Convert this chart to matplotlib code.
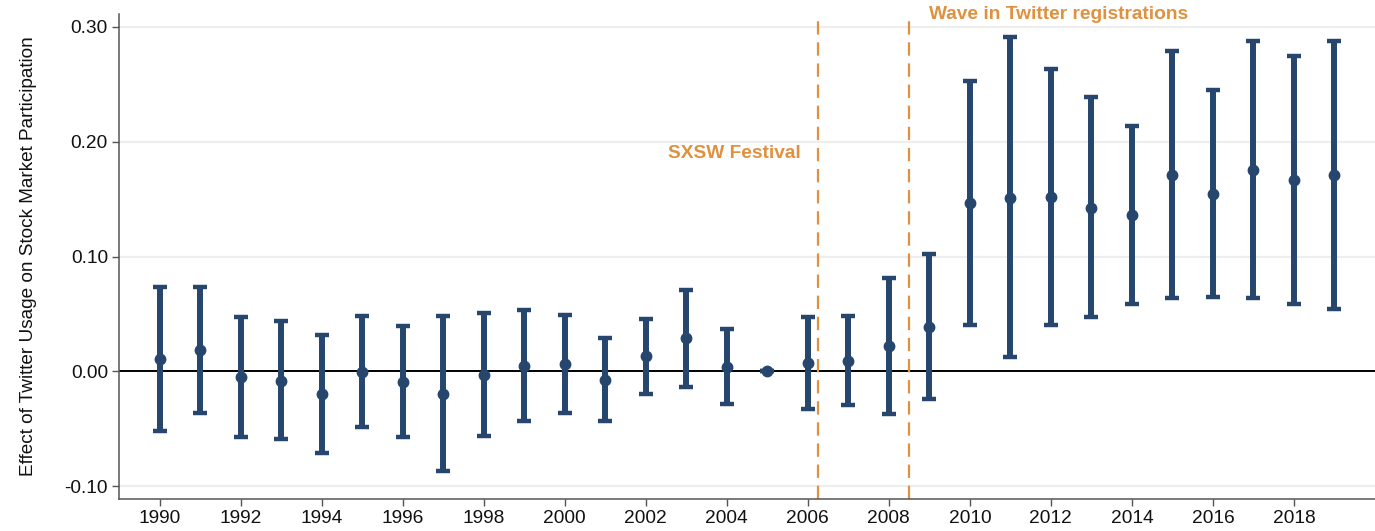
import matplotlib
matplotlib.use("Agg")
import matplotlib.pyplot as plt

# Event-study estimates: point estimate with 95% confidence bounds per year
years = list(range(1990, 2020))
estimate = [0.011, 0.019, -0.005, -0.008, -0.0195, -0.0006, -0.009, -0.0195,
            -0.003, 0.0044, 0.0062, -0.0074, 0.013, 0.0287, 0.0038, 0.0,
            0.0074, 0.0092, 0.0222, 0.039, 0.1468, 0.1513, 0.152, 0.1424,
            0.136, 0.1713, 0.1548, 0.1755, 0.1666, 0.1707]
upper = [0.0736, 0.0736, 0.0476, 0.044, 0.032, 0.0479, 0.0396, 0.0479,
         0.0508, 0.0535, 0.0493, 0.0287, 0.0455, 0.0709, 0.037, 0.0,
         0.0473, 0.0484, 0.0815, 0.1019, 0.2526, 0.291, 0.2635, 0.2384,
         0.2139, 0.2792, 0.245, 0.2877, 0.2747, 0.2877]
lower = [-0.0517, -0.0363, -0.057, -0.059, -0.0712, -0.0487, -0.057, -0.0866,
         -0.0561, -0.0428, -0.0363, -0.0428, -0.0195, -0.0133, -0.0284, 0.0,
         -0.0325, -0.0295, -0.0369, -0.0239, 0.0405, 0.0124, 0.0405, 0.0473,
         0.0588, 0.0635, 0.065, 0.0635, 0.0588, 0.0544]

x_ticks = list(range(1990, 2019, 2))
y_ticks = [-0.10, 0.00, 0.10, 0.20, 0.30]

events = [2006.25, 2008.5]
event_labels = ["SXSW Festival", "Wave in Twitter registrations"]

navy = "#26466d"
orange = "#e0913f"

plt.rcParams["font.family"] = ["Liberation Sans", "DejaVu Sans"]

fig = plt.figure(figsize=(13.75, 5.31), dpi=100)
ax = fig.add_axes([119 / 1375, 32 / 531, 1 - 119 / 1375, 1 - 46 / 531])

for yv in y_ticks:
    if yv != 0:
        ax.axhline(yv, color="#eeeeee", lw=1.6, zorder=0)
ax.axhline(0, color="black", lw=1.4, zorder=1)

yerr = [[e - l for e, l in zip(estimate, lower)],
        [u - e for e, u in zip(estimate, upper)]]
ax.errorbar(years, estimate, yerr=yerr, fmt="o", color=navy, ecolor=navy,
            elinewidth=4.3, capsize=4.8, capthick=3.2, markersize=7.5,
            zorder=3)

for xv in events:
    ax.axvline(xv, color=orange, lw=1.6, dashes=(6, 3.5), zorder=2)

ax.text(2005.83, 0.1897, event_labels[0], color=orange, fontsize=13.8,
        fontweight="bold", ha="right", va="center")
ax.text(2009.0, 0.3105, event_labels[1], color=orange, fontsize=13.8,
        fontweight="bold", ha="left", va="center", clip_on=False)

ax.set_xlim(1989.0, 2020.0)
ax.set_ylim(-0.111, 0.311)
ax.set_xticks(x_ticks)
ax.set_xticklabels([str(t) for t in x_ticks])
ax.set_yticks(y_ticks)
ax.set_yticklabels([f"{t:.2f}" for t in y_ticks])
ax.tick_params(axis="both", labelsize=13.8, color="#555555", length=5,
               width=1, pad=3, labelcolor="#111111")

for side in ["top", "right"]:
    ax.spines[side].set_visible(False)
for side in ["left", "bottom"]:
    ax.spines[side].set_color("#555555")
    ax.spines[side].set_linewidth(1.1)

ax.set_ylabel("Effect of Twitter Usage on Stock Market Participation",
              fontsize=13.7, color="#111111", labelpad=20)

fig.savefig("out.png", dpi=100)
